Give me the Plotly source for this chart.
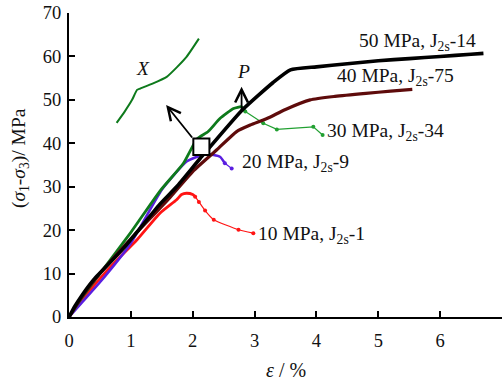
import plotly.graph_objects as go

FONT = "Liberation Serif"

# ---- data (strain %, deviatoric stress MPa) ----
x50 = [0, 0.1, 0.2, 0.4, 0.88, 1.47, 1.74, 2.12, 2.79, 3.3, 3.58, 4.0, 4.5, 5.0, 5.5, 6.0, 6.5, 6.7]
y50 = [0, 2.6, 4.8, 8.6, 15.8, 26.0, 30.0, 36.5, 47.5, 54.0, 56.9, 57.6, 58.3, 59.0, 59.5, 60.0, 60.5, 60.7]

x40 = [0, 0.2, 0.5, 1.0, 1.63, 2.0, 2.39, 2.71, 2.93, 3.2, 3.5, 3.9, 4.3, 4.8, 5.2, 5.55]
y40 = [0, 4.5, 10.0, 18.0, 27.5, 33.5, 38.5, 42.7, 44.2, 45.7, 47.8, 50.0, 50.8, 51.5, 52.0, 52.4]

x30 = [0, 0.2, 0.5, 1.0, 1.47, 1.85, 2.07, 2.25, 2.44, 2.66, 2.79, 2.85]
y30 = [0, 4.3, 10.0, 19.5, 29.0, 35.4, 41.0, 42.7, 45.7, 48.0, 48.4, 47.3]
x30_tail = [2.85, 3.14, 3.36, 3.95, 4.1]
y30_tail = [47.3, 44.6, 43.2, 43.8, 41.9]

x20 = [0, 0.2, 0.5, 1.0, 1.5, 1.9, 2.05, 2.23, 2.44, 2.52]
y20 = [0, 3.2, 8.0, 17.0, 29.3, 35.8, 36.8, 37.5, 36.9, 35.4]
x20_tail = [2.52, 2.63]
y20_tail = [35.4, 34.2]

x10 = [0, 0.2, 0.34, 0.7, 1.1, 1.47, 1.74, 1.82, 1.9, 2.0, 2.04]
y10 = [0, 3.8, 6.2, 12.0, 17.8, 23.9, 27.0, 28.2, 28.5, 28.2, 27.7]
x10_tail = [2.04, 2.1, 2.2, 2.34, 2.74, 2.98]
y10_tail = [27.7, 26.5, 24.5, 22.4, 20.1, 19.3]

xX = [0.77, 0.9, 1.02, 1.1, 1.15, 1.36, 1.58, 1.75, 1.9, 2.1]
yX = [44.7, 47.3, 50.0, 52.3, 52.6, 53.8, 55.3, 57.6, 59.9, 64.1]

labels = ["50 MPa, J<sub>2s</sub>-14", "40 MPa, J<sub>2s</sub>-75", "30 MPa, J<sub>2s</sub>-34",
          "20 MPa, J<sub>2s</sub>-9", "10 MPa, J<sub>2s</sub>-1"]
label_x = [4.66, 4.30, 4.14, 2.77, 3.02]
label_y = [63.4, 55.3, 42.7, 35.4, 18.9]

xticks = [0, 1, 2, 3, 4, 5, 6, 7]
yticks = [0, 10, 20, 30, 40, 50, 60, 70]

C_BLACK = "#000000"
C_MAROON = "#5e0b0b"
C_GREEN = "#0e7a1c"
C_GREEN_THIN = "#22a032"
C_BLUE = "#5a1ee0"
C_RED = "#ff1414"
C_TEXT = "#111111"

fig = go.Figure()

def line(x, y, color, width, markers=False, smooth=True):
    fig.add_trace(go.Scatter(
        x=x, y=y, mode="lines+markers" if markers else "lines",
        line=dict(color=color, width=width, shape="spline" if smooth else "linear",
                  smoothing=0.5),
        marker=dict(size=4, color=color) if markers else None,
        hoverinfo="skip", showlegend=False))

line(x10, y10, C_RED, 2.8)
line(x10_tail, y10_tail, C_RED, 1.2, markers=True)
line(x20, y20, C_BLUE, 2.6)
line(x20_tail, y20_tail, C_BLUE, 1.2, markers=True, smooth=False)
line(x30, y30, C_GREEN, 2.8)
line(x30_tail, y30_tail, C_GREEN_THIN, 1.2, markers=True, smooth=False)
line(x40, y40, C_MAROON, 3.2)
line(x50, y50, C_BLACK, 3.6)
line(xX, yX, C_GREEN, 2.0)

# labels
for t, lx, ly in zip(labels, label_x, label_y):
    fig.add_annotation(x=lx, y=ly, xref="x", yref="y", text=t, showarrow=False,
                       xanchor="left", yanchor="middle",
                       font=dict(family=FONT, size=19.5, color=C_TEXT))

fig.add_annotation(x=1.2, y=57.2, xref="x", yref="y", text="<i>X</i>", showarrow=False,
                   font=dict(family=FONT, size=19.5, color=C_TEXT))
fig.add_annotation(x=2.82, y=56.5, xref="x", yref="y", text="<i>P</i>", showarrow=False,
                   font=dict(family=FONT, size=19.5, color=C_TEXT))

# arrows
fig.add_annotation(x=1.57, y=48.8, ax=2.01, ay=41.0, xref="x", yref="y", axref="x", ayref="y",
                   text="", showarrow=True, arrowhead=5, arrowsize=1.4, arrowwidth=1.8,
                   arrowcolor="#000")
fig.add_annotation(x=2.79, y=53.0, ax=2.79, ay=47.3, xref="x", yref="y", axref="x", ayref="y",
                   text="", showarrow=True, arrowhead=5, arrowsize=1.4, arrowwidth=1.8,
                   arrowcolor="#000")

# square marker
fig.add_shape(type="rect", xref="x", yref="y", x0=2.01, x1=2.27, y0=37.3, y1=41.1,
              line=dict(color="#000", width=2), fillcolor="white", layer="above")

# axis titles as annotations (placed as in the reference)
fig.add_annotation(x=-0.113, y=0.523, xref="paper", yref="paper", textangle=-90,
                   text="(<i>σ</i><sub>1</sub>-<i>σ</i><sub>3</sub>)/ MPa", showarrow=False,
                   xanchor="center", yanchor="middle",
                   font=dict(family=FONT, size=19.5, color=C_TEXT))
fig.add_annotation(x=0.5, y=-0.173, xref="paper", yref="paper",
                   text="<i>ε</i> / %", showarrow=False, xanchor="center", yanchor="middle",
                   font=dict(family=FONT, size=20, color=C_TEXT))

axis_common = dict(showline=True, linecolor="#000", linewidth=2, ticks="inside", ticklen=6,
                   tickwidth=1.5, tickcolor="#000", showgrid=False, zeroline=False,
                   tickfont=dict(family=FONT, size=18.5, color=C_TEXT), mirror=False)

fig.update_xaxes(range=[0, 7], tickvals=xticks, ticktext=[str(v) for v in xticks],
                 ticklabelstandoff=6, **axis_common)
fig.update_yaxes(range=[0, 70], tickvals=yticks, ticktext=[str(v) for v in yticks],
                 ticklabelstandoff=2, **axis_common)

fig.update_layout(width=502, height=385, margin=dict(l=69, r=0, t=13, b=68),
                  paper_bgcolor="white", plot_bgcolor="white", showlegend=False)

fig.write_html("out.html")
